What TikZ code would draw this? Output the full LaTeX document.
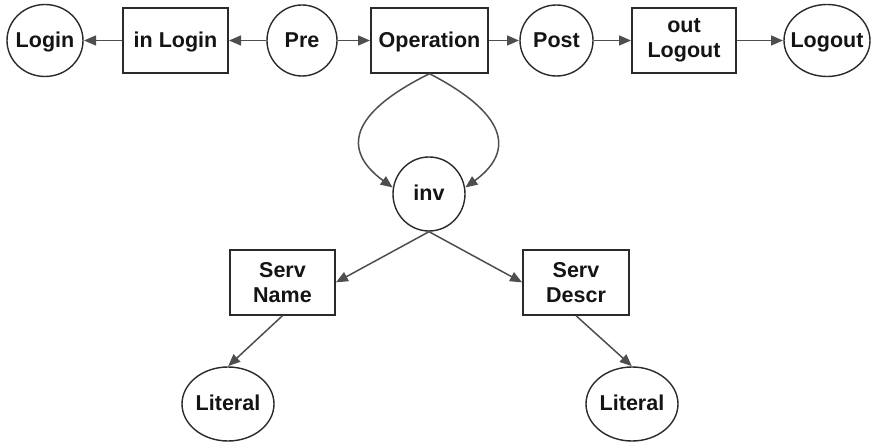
\documentclass[tikz,border=0pt]{standalone}
\usepackage{fontspec}
\setmainfont{Liberation Sans}
\usetikzlibrary{shapes.geometric,arrows.meta}
\definecolor{edgegray}{HTML}{4E4E4E}
\definecolor{framegray}{HTML}{2A2A2A}
\tikzset{
  lbl/.style={font=\fontsize{21.5}{25.3}\selectfont\bfseries, text=black!92, align=center},
  entity/.style={lbl, draw=framegray, line width=1.4pt, fill=white, inner sep=0pt},
  oneline/.style={text height=15.4pt, text depth=1.8pt},
  rel/.style={entity, rectangle, minimum height=65pt},
  blob/.style={entity, ellipse, oneline},
  link/.style={draw=edgegray, line width=1.5pt, -{Triangle[length=12pt,width=10pt]}, shorten >=0.3pt}
}
\newcommand{\ctext}[1]{\makebox[0pt]{#1}}
\begin{document}
\begin{tikzpicture}[x=1pt,y=-1pt]
  \useasboundingbox (0,0) rectangle (873,443);

  % top row
  \node[blob, minimum width=76pt, minimum height=72pt] (login) at (45,40.5) {\ctext{Login}};
  \node[rel, oneline, minimum width=105pt] (inlogin) at (175.5,40.5) {in Login};
  \node[blob, minimum width=70pt, minimum height=71pt] (pre) at (302,40.5) {\ctext{Pre}};
  \node[rel, oneline, minimum width=117pt] (op) at (429.5,40.5) {Operation};
  \node[blob, minimum width=73pt, minimum height=71pt] (post) at (556.5,40.5) {\ctext{Post}};
  \node[rel, minimum width=104pt] (outlogout) at (684,40.5) {out\\Logout};
  \node[blob, minimum width=86pt, minimum height=72pt] (logout) at (827,40.5) {\ctext{Logout}};

  % invocation and its parts
  \node[blob, minimum width=72pt, minimum height=74pt] (inv) at (429,194) {\ctext{inv}};
  \node[rel, minimum width=105pt] (sname) at (282.5,282.5) {Serv\\Name};
  \node[rel, minimum width=106pt] (sdescr) at (576,282.5) {Serv\\Descr};
  \node[blob, minimum width=92pt, minimum height=74pt] (lit1) at (228,404) {\ctext{Literal}};
  \node[blob, minimum width=92pt, minimum height=74pt] (lit2) at (632,404) {\ctext{Literal}};

  % connectors along the top row
  \draw[link] (inlogin) -- (login);
  \draw[link] (pre) -- (inlogin);
  \draw[link] (pre) -- (op);
  \draw[link] (op) -- (post);
  \draw[link] (post) -- (outlogout);
  \draw[link] (outlogout) -- (logout);

  % two curved links from Operation down to inv
  \draw[link] (op.south) .. controls (340,118) and (348,155) .. (inv.170);
  \draw[link] (op.south) .. controls (515,118) and (510,155) .. (inv.10);

  % lower tree
  \draw[link] (inv.south) -- (sname.east);
  \draw[link] (inv.south) -- (sdescr.west);
  \draw[link] (sname.south) -- (lit1.north);
  \draw[link] (sdescr.south) -- (lit2.north);
\end{tikzpicture}
\end{document}
